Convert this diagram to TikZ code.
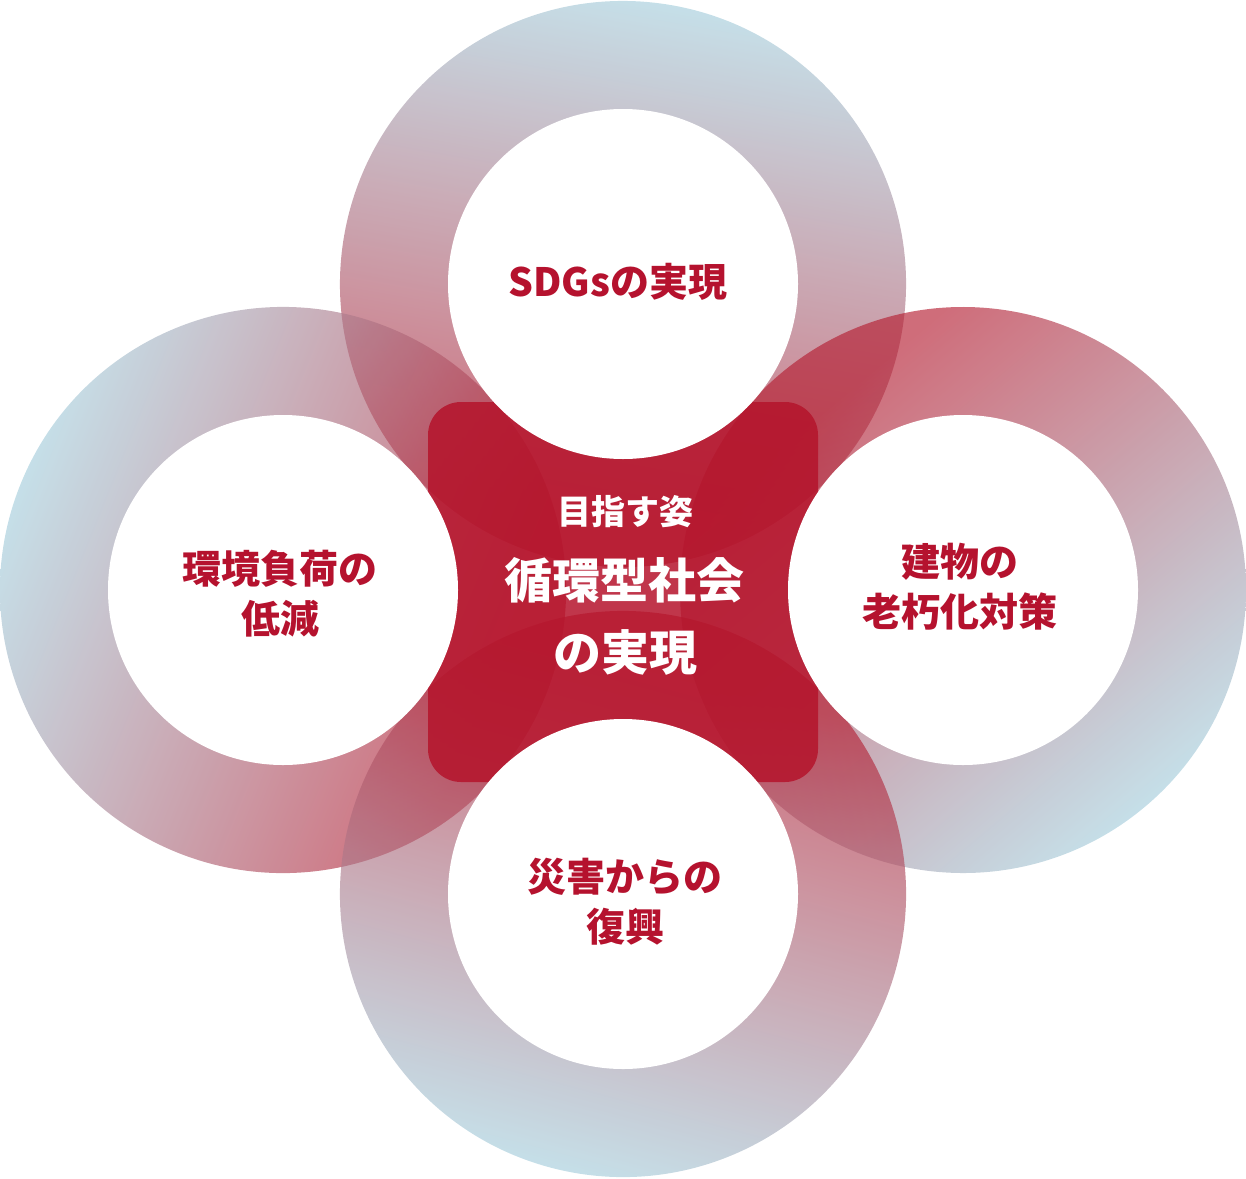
\documentclass[tikz,border=0pt]{standalone}
\usepackage{fontspec}
\newfontfamily\jp{Noto Sans CJK JP}
\definecolor{ringblue}{RGB}{166,206,220}
\definecolor{ringred}{RGB}{181,31,51}
\definecolor{labelred}{RGB}{181,18,46}
\definecolor{corered}{RGB}{181,19,43}
\pgfdeclarehorizontalshading{ringshade}{100bp}{color(0bp)=(ringblue); color(25bp)=(ringblue); color(70bp)=(ringred); color(100bp)=(ringred)}
\tikzset{
  ring/.style={shading=ringshade, fill opacity=0.65},
  hole/.style={fill=white},
  corebox/.style={fill=corered, fill opacity=0.85, rounded corners=33pt, minimum width=390pt, minimum height=380pt, inner sep=0pt},
  lbl/.style={text=labelred, align=center, font=\jp\bfseries\fontsize{39}{50}\selectfont, inner sep=0pt},
  coretxt/.style={text=white, align=center, inner sep=0pt},
}
\begin{document}
\begin{tikzpicture}[x=1pt,y=1pt]
\useasboundingbox (0,0) rectangle (1246,-1178);
\coordinate (ctop) at (623,-284);
\coordinate (cleft) at (283,-590);
\coordinate (cright) at (963,-590);
\coordinate (cbottom) at (623,-894);
% rings (blue end at 180+angle)
\shade[ring, transform canvas={rotate around={-100:(ctop)}}] (ctop) circle[radius=283];
\shade[ring, transform canvas={rotate around={-22:(cleft)}}] (cleft) circle[radius=283];
\shade[ring, transform canvas={rotate around={130:(cright)}}] (cright) circle[radius=283];
\shade[ring, transform canvas={rotate around={75:(cbottom)}}] (cbottom) circle[radius=283];
% core
\node[corebox] (core) at (623,-592) {};
% holes
\fill[hole] (ctop) circle[radius=175];
\fill[hole] (cleft) circle[radius=175];
\fill[hole] (cright) circle[radius=175];
\fill[hole] (cbottom) circle[radius=175];
% labels
\node[lbl] (ltop) at (618,-282) {SDGsの実現};
\node[lbl] (lleft) at (280,-594) {環境負荷の\\低減};
\node[lbl] (lright) at (960,-587) {建物の\\老朽化対策};
\node[lbl] (lbottom) at (625,-902) {災害からの\\復興};
% core text
\node[coretxt, font=\jp\bfseries\fontsize{34}{40}\selectfont] (t1) at (625,-512) {目指す姿};
\node[coretxt, font=\jp\bfseries\fontsize{48}{56}\selectfont] (t2) at (624,-580) {循環型社会};
\node[coretxt, font=\jp\bfseries\fontsize{48}{56}\selectfont] (t3) at (625,-652) {の実現};
\end{tikzpicture}
\end{document}
